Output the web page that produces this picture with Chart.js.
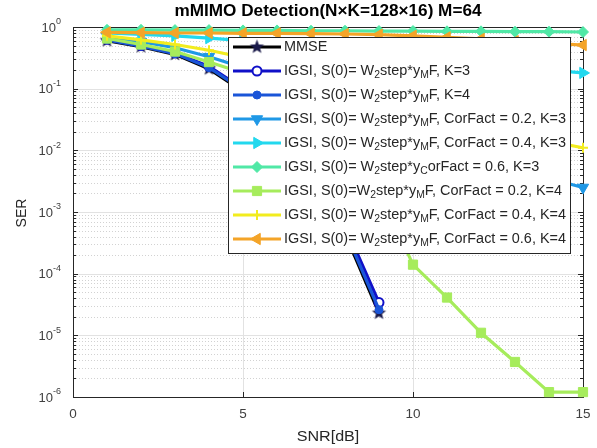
<!DOCTYPE html>
<html><head><meta charset="utf-8">
<script src="https://cdn.jsdelivr.net/npm/chart.js@4.4.0/dist/chart.umd.min.js"></script>
<style>html,body{margin:0;padding:0;background:#fff;overflow:hidden}</style>
</head><body>
<canvas id="c" width="597" height="448"></canvas>
<script>
// ---------- data ----------
const snrShort = [1,2,3,4,5,6,7,8,9];
const snrLong  = [1,2,3,4,5,6,7,8,9,10,11,12,13,14,15];
const serMMSE   = [0.60,0.48,0.36,0.21,0.090,0.025,0.0050,4.5e-4,2.3e-5];
const serK3     = [0.63,0.50,0.38,0.23,0.100,0.030,0.0065,6.0e-4,3.4e-5];
const serK4     = [0.62,0.49,0.37,0.22,0.095,0.027,0.0055,5.0e-4,2.6e-5];
const serC02K3  = [0.70,0.58,0.46,0.33,0.22,0.13,0.075,0.045,0.028,0.018,0.011,0.0075,0.005,0.0035,0.0025];
const serC04K3  = [0.80,0.76,0.72,0.66,0.60,0.55,0.50,0.45,0.40,0.35,0.30,0.27,0.23,0.20,0.18];
const serC06K3  = [0.90,0.90,0.89,0.89,0.88,0.88,0.87,0.87,0.86,0.86,0.85,0.85,0.84,0.84,0.83];
const serC02K4  = [0.65,0.52,0.40,0.27,0.18,0.10,0.040,0.012,0.0022,1.4e-4,4.1e-5,1.1e-5,3.7e-6,1.2e-6,1.2e-6];
const serC04K4  = [0.72,0.62,0.52,0.42,0.32,0.22,0.15,0.10,0.070,0.050,0.035,0.025,0.018,0.014,0.011];
const serC06K4  = [0.82,0.81,0.80,0.80,0.79,0.79,0.78,0.77,0.75,0.72,0.68,0.64,0.59,0.55,0.51];
const legendLabels = [
  'MMSE',
  'IGSI, S(0)= W_{2}step*y_{M}F, K=3',
  'IGSI, S(0)= W_{2}step*y_{M}F, K=4',
  'IGSI, S(0)= W_{2}step*y_{M}F, CorFact = 0.2, K=3',
  'IGSI, S(0)= W_{2}step*y_{M}F, CorFact = 0.4, K=3',
  'IGSI, S(0)= W_{2}step*y_{C}orFact = 0.6, K=3',
  'IGSI, S(0)=W_{2}step*y_{M}F, CorFact = 0.2, K=4',
  'IGSI, S(0)= W_{2}step*y_{M}F, CorFact = 0.4, K=4',
  'IGSI, S(0)= W_{2}step*y_{M}F, CorFact = 0.6, K=4'
];
const xTickValues = [0,5,10,15];
const yDecadeExps = [0,-1,-2,-3,-4,-5,-6];
const titleText = 'mMIMO Detection(N\u00d7K=128\u00d716) M=64';
const xLabel = 'SNR[dB]';
const yLabel = 'SER';

// ---------- styling ----------
const FONT = '"Liberation Sans", Arial, sans-serif';
function makeStar(r){
  const c = document.createElement('canvas'); const s = Math.ceil(r*2+2);
  c.width = s; c.height = s; const g = c.getContext('2d');
  g.beginPath();
  for (let i=0;i<10;i++){
    const rad = i%2===0 ? r : r*0.42;
    const a = -Math.PI/2 + i*Math.PI/5;
    const px = s/2 + rad*Math.cos(a), py = s/2 + rad*Math.sin(a);
    i===0 ? g.moveTo(px,py) : g.lineTo(px,py);
  }
  g.closePath(); g.fillStyle = '#1a1a4a'; g.fill();
  return c;
}
const starImg = makeStar(7.5);

const styles = [
  {color:'#000000', ps:starImg, rot:0, r:7, bg:'#000', bw:1},
  {color:'#1010c8', ps:'circle', rot:0, r:4.5, bg:'#ffffff', bw:2},
  {color:'#1a55d8', ps:'circle', rot:0, r:4, bg:'#1a55d8', bw:1},
  {color:'#1f98e6', ps:'triangle', rot:180, r:6.5, bg:'#1f98e6', bw:1},
  {color:'#22d8ee', ps:'triangle', rot:90, r:6.5, bg:'#22d8ee', bw:1},
  {color:'#50e8a6', ps:'rectRot', rot:0, r:5.5, bg:'#50e8a6', bw:1},
  {color:'#a6ec5c', ps:'rect', rot:0, r:6.5, bg:'#a6ec5c', bw:1},
  {color:'#f2ec1e', ps:'cross', rot:0, r:5, bg:'#f2ec1e', bw:2},
  {color:'#f4a428', ps:'triangle', rot:-90, r:6.5, bg:'#f4a428', bw:1}
];
const seriesX = [snrShort,snrShort,snrShort,snrLong,snrLong,snrLong,snrLong,snrLong,snrLong];
const seriesY = [serMMSE,serK3,serK4,serC02K3,serC04K3,serC06K3,serC02K4,serC04K4,serC06K4];

const datasets = seriesY.map((ys,i)=>({
  label: legendLabels[i],
  data: ys.map((v,j)=>({x:seriesX[i][j], y:v})),
  borderColor: styles[i].color,
  backgroundColor: styles[i].bg,
  pointBorderColor: styles[i].color,
  pointBackgroundColor: styles[i].bg,
  pointStyle: styles[i].ps,
  pointRotation: styles[i].rot,
  pointRadius: styles[i].r,
  pointBorderWidth: styles[i].bw,
  borderWidth: 3.2,
  tension: 0,
  clip: false,
  order: 20 - i
}));

function line(ctx,x1,y1,x2,y2){ctx.beginPath();ctx.moveTo(x1,y1);ctx.lineTo(x2,y2);ctx.stroke();}

function drawMarker(ctx, st, x, y){
  ctx.save();
  ctx.fillStyle = st.bg; ctx.strokeStyle = st.color; ctx.lineWidth = st.bw;
  if (Chart.helpers && Chart.helpers.drawPoint){
    Chart.helpers.drawPoint(ctx, {pointStyle: st.ps, rotation: st.rot, radius: st.r, borderWidth: st.bw}, x, y);
  } else {
    ctx.beginPath(); ctx.arc(x,y,st.r,0,Math.PI*2); ctx.fill(); ctx.stroke();
  }
  ctx.restore();
}

function richWidth(ctx, text, size){
  const parts = text.split(/_\{([^}]*)\}/); let w = 0;
  parts.forEach((p,k)=>{ if(!p) return; ctx.font = (k%2===1 ? size*0.72 : size)+'px '+FONT; w += ctx.measureText(p).width; });
  return w;
}
function drawRich(ctx, text, x, y, size, sx){
  const parts = text.split(/_\{([^}]*)\}/);
  ctx.save(); ctx.translate(x, y); ctx.scale(sx, 1);
  let cx = 0;
  parts.forEach((p,k)=>{
    if (!p) return;
    if (k%2===1){ ctx.font = (size*0.72)+'px '+FONT; ctx.fillText(p, cx, 4.5); }
    else { ctx.font = size+'px '+FONT; ctx.fillText(p, cx, 0); }
    cx += ctx.measureText(p).width;
  });
  ctx.restore();
}

const frame = {
  id:'frame',
  beforeDatasetsDraw(chart){
    const {ctx, chartArea:a, scales:{x,y}} = chart;
    ctx.save();
    ctx.lineWidth = 1;
    ctx.strokeStyle = '#d2d2d2'; ctx.setLineDash([1,2]);
    for (let d=-6; d<0; d++) for (let m=2; m<=9; m++){
      const py = Math.round(y.getPixelForValue(m*Math.pow(10,d)))+0.5;
      line(ctx,a.left,py,a.right,py);
    }
    ctx.setLineDash([]);
    ctx.strokeStyle = '#e2e2e2';
    yDecadeExps.forEach(e=>{
      if (e===0||e===-6) return;
      const py = Math.round(y.getPixelForValue(Math.pow(10,e)))+0.5;
      line(ctx,a.left,py,a.right,py);
    });
    xTickValues.forEach(v=>{
      if (v===0||v===15) return;
      const px = Math.round(x.getPixelForValue(v))+0.5;
      line(ctx,px,a.top,px,a.bottom);
    });
    ctx.strokeStyle = '#262626';
    ctx.strokeRect(Math.round(a.left)+0.5, Math.round(a.top)+0.5, Math.round(a.right-a.left), Math.round(a.bottom-a.top));
    for (let d=-6; d<=0; d++) for (let m=1; m<=9; m++){
      const v = m*Math.pow(10,d); if (v>1) continue;
      const py = Math.round(y.getPixelForValue(v))+0.5;
      const len = m===1 ? 5 : 3;
      line(ctx,a.left,py,a.left+len,py);
      line(ctx,a.right,py,a.right-len,py);
    }
    xTickValues.forEach(v=>{
      const px = Math.round(x.getPixelForValue(v))+0.5;
      line(ctx,px,a.bottom,px,a.bottom-5);
      line(ctx,px,a.top,px,a.top+5);
    });
    ctx.fillStyle = '#404040';
    ctx.textBaseline = 'middle';
    yDecadeExps.forEach(e=>{
      const py = y.getPixelForValue(Math.pow(10,e));
      const sup = String(e);
      ctx.font = '9px '+FONT;
      const sw = ctx.measureText(sup).width;
      ctx.font = '13px '+FONT;
      const bw = ctx.measureText('10').width;
      const right = 61;
      ctx.textAlign = 'left';
      ctx.fillText('10', right - sw - bw, py+1);
      ctx.font = '9px '+FONT;
      ctx.fillText(sup, right - sw, py-5);
    });
    ctx.font = '13.5px '+FONT; ctx.textAlign = 'center';
    xTickValues.forEach(v=>{
      ctx.fillText(String(v), x.getPixelForValue(v), 414);
    });
    ctx.font = '14px '+FONT; ctx.fillStyle = '#262626';
    ctx.save(); ctx.translate((a.left+a.right)/2, 437); ctx.scale(1.15,1); ctx.fillText(xLabel, 0, 0); ctx.restore();
    ctx.save(); ctx.translate(22, 213); ctx.rotate(-Math.PI/2);
    ctx.fillText(yLabel, 0, 0); ctx.restore();
    ctx.font = 'bold 16px '+FONT; ctx.fillStyle = '#000';
    const tw = ctx.measureText(titleText).width;
    ctx.save(); ctx.translate(328, 12); ctx.scale(307/tw, 1); ctx.fillText(titleText, 0, 0); ctx.restore();
    ctx.restore();
  },
  afterDatasetsDraw(chart){
    const ctx = chart.ctx;
    ctx.save();
    const L = 228.5, T = 37.5, W = 342, H = 216;
    ctx.fillStyle = '#fff'; ctx.fillRect(L,T,W,H);
    ctx.strokeStyle = '#262626'; ctx.lineWidth = 1; ctx.strokeRect(L,T,W,H);
    const fs = 14;
    const sx = 282 / richWidth(ctx, legendLabels[3], fs);
    legendLabels.forEach((lab,i)=>{
      const yy = 47 + i*24;
      const st = styles[i];
      ctx.strokeStyle = st.color; ctx.lineWidth = 3.2;
      line(ctx,233,yy,281,yy);
      if (st.ps === starImg){
        ctx.drawImage(starImg, 257 - starImg.width/2, yy - starImg.height/2);
      } else drawMarker(ctx, st, 257, yy);
      ctx.fillStyle = '#262626'; ctx.textBaseline = 'middle'; ctx.textAlign = 'left';
      drawRich(ctx, lab, 284, yy, fs, sx);
    });
    ctx.restore();
  }
};

new Chart(document.getElementById('c'), {
  type: 'line',
  data: { datasets },
  options: {
    responsive: false,
    devicePixelRatio: 1,
    animation: false,
    layout: { padding: {left:73, right:14, top:27, bottom:51} },
    plugins: { legend:{display:false}, title:{display:false}, tooltip:{enabled:false} },
    scales: {
      x: { type:'linear', min:0, max:15, display:false },
      y: { type:'logarithmic', min:1e-6, max:1, display:false }
    }
  },
  plugins: [frame]
});
</script>
</body></html>
